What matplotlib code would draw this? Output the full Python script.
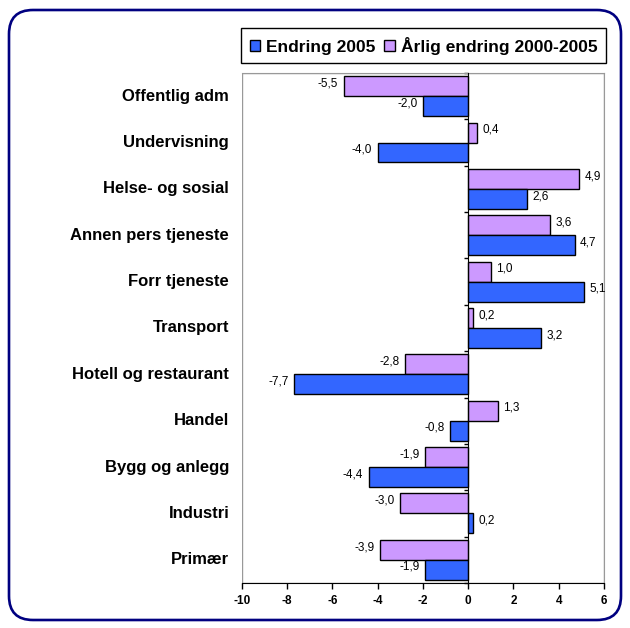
import matplotlib
matplotlib.use("Agg")
import matplotlib.pyplot as plt
from matplotlib.patches import FancyBboxPatch, Rectangle
from matplotlib.transforms import blended_transform_factory
import numpy as np

plt.rcParams['font.family'] = ['Liberation Sans', 'DejaVu Sans']

# data, top to bottom as in the chart
categories = ['Offentlig adm', 'Undervisning', 'Helse- og sosial', 'Annen pers tjeneste',
              'Forr tjeneste', 'Transport', 'Hotell og restaurant', 'Handel',
              'Bygg og anlegg', 'Industri', 'Primær']
endring_2005 = [-2.0, -4.0, 2.6, 4.7, 5.1, 3.2, -7.7, -0.8, -4.4, 0.2, -1.9]
arlig_endring = [-5.5, 0.4, 4.9, 3.6, 1.0, 0.2, -2.8, 1.3, -1.9, -3.0, -3.9]
xticks = [-10, -8, -6, -4, -2, 0, 2, 4, 6]

blue = '#3366FF'
purple = '#CC99FF'

fig = plt.figure(figsize=(6.3, 6.28), dpi=100)
ax = fig.add_axes([0.384, 0.0717, 0.5747, 0.8121])

n = len(categories)
y = np.arange(n)[::-1]
h = 0.43

b_purple = ax.barh(y + h / 2, arlig_endring, height=h, color=purple,
                   edgecolor='black', linewidth=1, label='Årlig endring 2000-2005', zorder=3)
b_blue = ax.barh(y - h / 2, endring_2005, height=h, color=blue,
                 edgecolor='black', linewidth=1, label='Endring 2005', zorder=3)

def fmt(v):
    return f"{v:.1f}".replace('.', ',')

for bars, vals in [(b_purple, arlig_endring), (b_blue, endring_2005)]:
    for bar, v in zip(bars, vals):
        yc = bar.get_y() + bar.get_height() / 2
        if v >= 0:
            ax.annotate(fmt(v), (v, yc), xytext=(4, 2), textcoords='offset points',
                        ha='left', va='center', fontsize=8.5)
        else:
            ax.annotate(fmt(v), (v, yc), xytext=(-4, 2), textcoords='offset points',
                        ha='right', va='center', fontsize=8.5)

ax.set_xlim(-10, 6)
ax.set_ylim(-0.5, n - 0.5)
ax.set_xticks(xticks)
ax.set_xticklabels([str(t) for t in xticks], fontweight='bold', fontsize=8.5)
ax.tick_params(axis='x', length=4, width=1, color='black', pad=5)

# zero line with small ticks between categories
ax.spines['left'].set_position(('data', 0))
ax.spines['left'].set_color('black')
ax.spines['left'].set_zorder(4)
ax.set_yticks(np.arange(n + 1) - 0.5)
ax.set_yticklabels([])
ax.tick_params(axis='y', length=3, width=1, color='black', direction='out')
ax.spines['top'].set_color('#999999')
ax.spines['right'].set_color('#999999')
ax.spines['bottom'].set_color('black')
ax.add_patch(Rectangle((0, 0), 1, 1, transform=ax.transAxes, fill=False,
                       edgecolor='#999999', linewidth=1, zorder=0))

trans = blended_transform_factory(ax.transAxes, ax.transData)
for yi, name in zip(y, categories):
    ax.text(-0.035, yi, name, transform=trans, ha='right', va='center',
            fontsize=12, fontweight='bold')

handles = [b_blue, b_purple]
leg = fig.legend(handles, [hh.get_label() for hh in handles], loc='upper right',
                 bbox_to_anchor=(606 / 630, 1 - 28 / 628), ncol=2, frameon=True,
                 fancybox=False, edgecolor='black', framealpha=1,
                 prop={'weight': 'bold', 'size': 12.5}, handlelength=0.6,
                 handleheight=0.6, handletextpad=0.35, columnspacing=0.5,
                 borderpad=0.5, borderaxespad=0)
leg.get_frame().set_linewidth(1)

# rounded outer frame
frame = FancyBboxPatch((9, 8), 612, 610, boxstyle='round,pad=0,rounding_size=24',
                       transform=None, fill=False, edgecolor='#000080', linewidth=1.9)
fig.patches.append(frame)

fig.savefig('out.png', dpi=100)
